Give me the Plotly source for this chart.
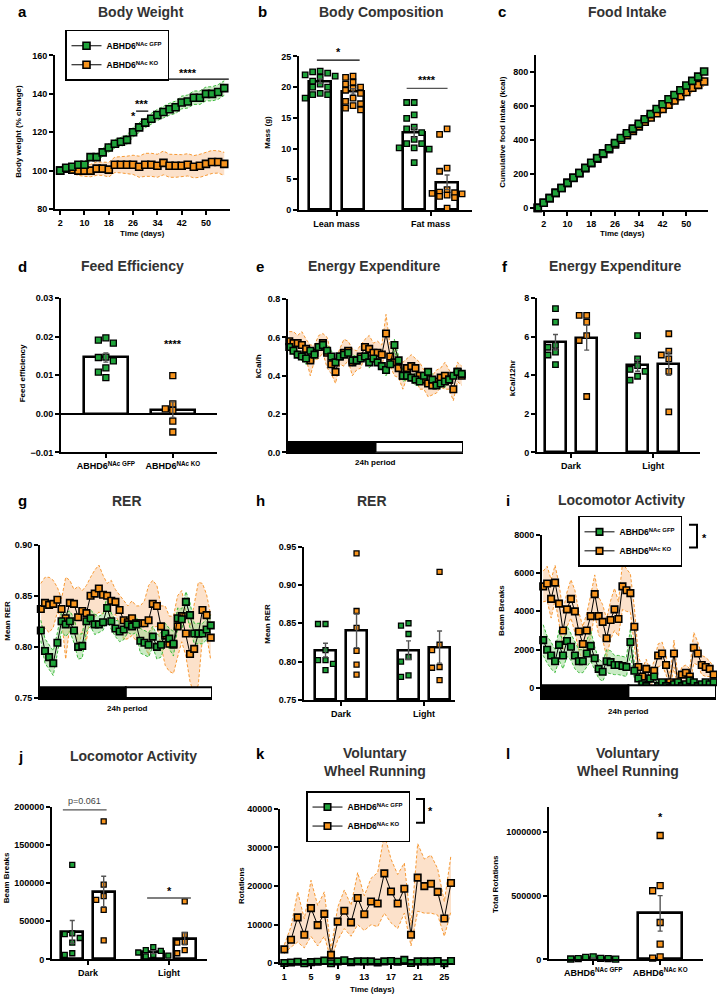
import plotly.graph_objects as go

W, H = 717, 1000
FONT = "Liberation Sans, Arial, Helvetica, sans-serif"
GREEN = "#1fa33a"
ORANGE = "#f7941d"
GREEN_FILL = "rgba(150,215,140,0.5)"
ORANGE_FILL = "rgba(250,195,150,0.5)"
GREEN_LINE = "#3dbb3d"
ORANGE_LINE = "#f79a35"
TITLE_COLOR = "#333333"
GFP = "ABHD6<sup>NAc GFP</sup>"
KO = "ABHD6<sup>NAc KO</sup>"

# ---------------- data ----------------
# a  Body weight (% change)
bw_days = list(range(2, 57, 2))
bw_gfp = [100, 101.5, 102, 103, 103, 107, 107, 109.5, 112, 114, 115, 116, 120, 122.5,
          125, 127, 129, 130.5, 132, 133, 135.5, 136, 138, 138, 140, 140, 141, 143]
bw_gfp_sem = [0.8, 1.0, 1.2, 1.4, 1.5, 1.7, 1.8, 2.0, 2.1, 2.2, 2.3, 2.4, 2.5, 2.6,
              2.7, 2.8, 2.9, 3.0, 3.1, 3.2, 3.3, 3.4, 3.5, 3.5, 3.6, 3.7, 3.8, 3.8]
bw_ko = [100, 101, 100.5, 100, 100, 100, 101, 101, 100.5, 103, 103, 103, 103, 102,
         103, 103, 102.5, 104, 102.5, 102.5, 102.5, 103, 102, 102.5, 103.5, 104.5, 104.5, 103.5]
bw_ko_sem = [0.8, 1.5, 2.0, 2.5, 3.0, 3.2, 3.5, 3.5, 3.8, 4.0, 4.2, 4.5, 5.0, 5.5,
             6.0, 6.0, 6.0, 6.2, 6.0, 6.0, 5.8, 5.8, 5.8, 6.0, 6.0, 6.0, 5.8, 6.0]

# b  Body composition
comp_groups = ["Lean mass", "Fat mass"]
lean_gfp = [22.5, 22.3, 22.6, 22.0, 21.8, 21.6, 21.0, 20.5, 20.0, 20.0, 19.0, 18.8, 18.8, 18.2]
lean_ko = [21.8, 21.6, 20.8, 20.5, 20.0, 19.8, 19.5, 19.0, 18.2, 17.7, 17.3, 17.0, 16.6, 16.3]
fat_gfp = [17.5, 17.5, 15.5, 14.9, 13.5, 13.2, 12.6, 11.5, 10.8, 10.8, 10.1, 10.1, 9.9, 7.7]
fat_ko = [13.2, 12.3, 6.8, 6.3, 3.3, 2.9, 2.8, 2.7, 2.6, 2.4, 2.2, 2.0, 0.3]
comp_mean = {"lean_gfp": 21.0, "lean_ko": 19.3, "fat_gfp": 12.6, "fat_ko": 4.5}
comp_sem = {"lean_gfp": 0.35, "lean_ko": 0.45, "fat_gfp": 0.8, "fat_ko": 1.2}

# c  Cumulative food intake
fi_days = list(range(0, 57, 2))
fi_gfp = [0, 30, 57, 88, 117, 147, 177, 205, 235, 265, 292, 320, 350, 380, 410, 438, 465,
          493, 520, 550, 580, 608, 637, 662, 690, 718, 745, 770, 800]
fi_ko = [0, 30, 57, 88, 117, 147, 176, 204, 233, 262, 289, 316, 344, 372, 400, 426, 452,
         478, 505, 530, 555, 580, 605, 630, 655, 680, 705, 722, 742]
fi_ko_sem = [0, 1, 2, 3, 4, 5, 6, 7, 8, 9, 10, 11, 12, 13, 14, 15, 16, 17, 18, 19, 20,
             21, 22, 23, 24, 25, 26, 27, 28]

# d  Feed efficiency
fe_gfp = [0.0191, 0.0197, 0.0183, 0.0146, 0.0137, 0.0147, 0.0119, 0.0108, 0.0094]
fe_ko = [0.0099, 0.0026, 0.0009, 0.0013, -0.0019, -0.0047]
fe_mean = [0.0146, 0.0011]
fe_sem = [0.0012, 0.002]

# e  Energy expenditure time course (kcal/h)
ee_gfp = [0.55, 0.53, 0.51, 0.50, 0.49, 0.53, 0.51, 0.55, 0.56, 0.53, 0.50, 0.47, 0.50, 0.51,
          0.52, 0.48, 0.48, 0.49, 0.50, 0.47, 0.49, 0.47, 0.45, 0.43, 0.46, 0.56, 0.48, 0.40,
          0.40, 0.39, 0.38, 0.37, 0.40, 0.42, 0.38, 0.35, 0.36, 0.37, 0.38, 0.40, 0.42, 0.41]
ee_gfp_sem = [0.02, 0.02, 0.02, 0.02, 0.03, 0.02, 0.03, 0.02, 0.02, 0.03, 0.03, 0.02, 0.02, 0.02,
              0.02, 0.03, 0.02, 0.02, 0.02, 0.03, 0.02, 0.02, 0.02, 0.03, 0.02, 0.03, 0.02, 0.03,
              0.02, 0.02, 0.03, 0.02, 0.02, 0.02, 0.03, 0.02, 0.02, 0.03, 0.02, 0.02, 0.02, 0.02]
ee_ko = [0.58, 0.57, 0.57, 0.56, 0.54, 0.48, 0.52, 0.55, 0.57, 0.52, 0.46, 0.42, 0.50, 0.52,
         0.53, 0.47, 0.48, 0.50, 0.55, 0.54, 0.52, 0.52, 0.51, 0.62, 0.50, 0.47, 0.44, 0.40,
         0.44, 0.45, 0.44, 0.40, 0.38, 0.36, 0.35, 0.37, 0.39, 0.40, 0.38, 0.33, 0.42, 0.40]
ee_ko_sem = [0.05, 0.06, 0.04, 0.07, 0.05, 0.08, 0.04, 0.06, 0.05, 0.08, 0.05, 0.06, 0.04, 0.07,
             0.05, 0.07, 0.05, 0.06, 0.04, 0.07, 0.05, 0.06, 0.05, 0.10, 0.05, 0.07, 0.05, 0.07,
             0.05, 0.06, 0.05, 0.07, 0.05, 0.07, 0.05, 0.06, 0.05, 0.07, 0.05, 0.06, 0.05, 0.05]

# f  Energy expenditure per 12 h
phases = ["Dark", "Light"]
ee12_dark_gfp = [7.45, 6.75, 5.55, 5.45, 5.2, 5.05, 4.55]
ee12_dark_ko = [7.1, 7.1, 6.75, 6.05, 5.8, 2.9]
ee12_light_gfp = [6.05, 4.85, 4.5, 4.3, 4.2, 3.95, 3.75]
ee12_light_ko = [6.15, 5.25, 5.05, 4.85, 4.2, 2.1]
ee12_mean = [5.71, 5.95, 4.51, 4.6]
ee12_sem = [0.4, 0.65, 0.3, 0.6]

# g  RER time course
rer_ko = [0.837, 0.843, 0.841, 0.842, 0.846, 0.837, 0.828, 0.843, 0.842, 0.829, 0.835, 0.833,
          0.850, 0.852, 0.857, 0.851, 0.850, 0.845, 0.844, 0.836, 0.826, 0.824, 0.828, 0.823,
          0.823, 0.823, 0.826, 0.842, 0.840, 0.820, 0.811, 0.803, 0.802, 0.820, 0.830, 0.813,
          0.793, 0.798, 0.813, 0.836, 0.831, 0.809]
rer_ko_sem = [0.025, 0.025, 0.027, 0.023, 0.012, 0.010, 0.040, 0.022, 0.014, 0.030, 0.020, 0.027,
              0.018, 0.023, 0.023, 0.019, 0.012, 0.020, 0.012, 0.015, 0.019, 0.016, 0.017, 0.017,
              0.017, 0.022, 0.034, 0.023, 0.020, 0.020, 0.029, 0.027, 0.028, 0.030, 0.025, 0.022,
              0.027, 0.045, 0.050, 0.026, 0.020, 0.022]
rer_gfp = [0.816, 0.796, 0.790, 0.784, 0.804, 0.825, 0.822, 0.825, 0.816, 0.800, 0.801, 0.825,
           0.828, 0.822, 0.822, 0.824, 0.838, 0.825, 0.818, 0.815, 0.817, 0.822, 0.820, 0.822,
           0.806, 0.804, 0.802, 0.810, 0.800, 0.802, 0.813, 0.808, 0.803, 0.828, 0.827, 0.844,
           0.831, 0.813, 0.813, 0.813, 0.817, 0.821]
rer_gfp_sem = [0.010, 0.012, 0.012, 0.012, 0.010, 0.010, 0.012, 0.010, 0.012, 0.012, 0.012, 0.010,
               0.008, 0.010, 0.008, 0.008, 0.012, 0.008, 0.008, 0.010, 0.010, 0.008, 0.008, 0.008,
               0.012, 0.012, 0.012, 0.010, 0.012, 0.012, 0.010, 0.010, 0.012, 0.010, 0.010, 0.010,
               0.012, 0.010, 0.010, 0.010, 0.010, 0.010]

# h  Mean RER
rer_dark_gfp = [0.849, 0.849, 0.815, 0.802, 0.802, 0.797, 0.789]
rer_dark_ko = [0.941, 0.866, 0.844, 0.814, 0.796, 0.783]
rer_light_gfp = [0.850, 0.847, 0.836, 0.806, 0.800, 0.782, 0.780]
rer_light_ko = [0.917, 0.822, 0.815, 0.793, 0.792, 0.776]
rer_mean = [0.815, 0.840, 0.815, 0.819]
rer_sem = [0.009, 0.022, 0.012, 0.021]

# i  Locomotor activity time course
loc_ko = [5300, 5450, 4650, 5500, 4400, 3000, 4100, 4650, 4000, 2950, 2300, 3000, 3750, 4900,
          3750, 3450, 2600, 3550, 4100, 3600, 5300, 5100, 4950, 3200, 1100, 600, 1000, 500,
          900, 1700, 1800, 1200, 300, 1800, 200, 700, 800, 600, 2100, 1800, 1200, 1100, 1000, 700]
loc_ko_sem = [800, 900, 1000, 900, 1000, 1000, 900, 1000, 1100, 1000, 900, 900, 1100, 1000,
              1000, 900, 1000, 1000, 1100, 900, 1200, 1100, 1000, 1000, 600, 400, 500, 400,
              500, 600, 600, 500, 300, 700, 300, 400, 400, 400, 800, 600, 500, 500, 400, 400]
loc_gfp = [2500, 2000, 1700, 1400, 2250, 1700, 2450, 2150, 1700, 1400, 1400, 1800, 2200, 1550,
           1000, 850, 1400, 1350, 1200, 1200, 1150, 1100, 2400, 900, 500, 200, 100, 500, 600,
           100, 300, 100, 0, 200, 300, 100, 200, 400, 300, 100, 200, 300, 200, 300]
loc_gfp_sem = [800, 700, 700, 600, 800, 700, 800, 700, 700, 600, 600, 700, 800, 600, 500, 500,
               600, 600, 500, 500, 500, 500, 700, 400, 300, 150, 100, 200, 300, 100, 150, 100,
               50, 100, 150, 100, 100, 200, 150, 100, 100, 150, 100, 150]

# j  Locomotor activity per phase
loc_dark_gfp = [124000, 34000, 33000, 28000, 22000, 8000, 6000]
loc_dark_ko = [181000, 98000, 83000, 78000, 65000, 25000]
loc_light_gfp = [16000, 12000, 11000, 9000, 6000, 5000, 4000]
loc_light_ko = [76000, 32000, 23000, 22000, 12000, 8000]
loc_mean = [36000, 89000, 9500, 27000]
loc_sem = [15000, 20000, 2000, 8000]

# k  Voluntary wheel running time course
wr_days = list(range(1, 27))
wr_ko = [3600, 6100, 11900, 7400, 14300, 9900, 12800, 2200, 10800, 13600, 10600, 16900, 12700,
         16000, 15500, 23300, 18600, 15500, 19300, 7400, 22200, 20000, 20600, 18500, 11600, 20800]
wr_ko_up = [4800, 9500, 18500, 11500, 21500, 15000, 18500, 3500, 14500, 19000, 15000, 23500,
            17500, 22000, 23500, 33500, 27000, 23000, 26000, 9800, 31000, 27000, 28000, 24500,
            16000, 28000]
wr_ko_lo = [2500, 4200, 5500, 4000, 7000, 4500, 7000, 1000, 6000, 9000, 7000, 10000, 8500,
            10000, 9500, 13000, 10500, 9000, 13000, 4500, 13500, 13000, 13000, 12500, 7000, 13500]
wr_gfp = [100, 200, 400, 0, 300, 400, 700, 0, 500, 800, 300, 500, 500, 500, 200, 500, 600, 400,
          900, 100, 500, 500, 500, 600, 0, 600]

# l  Total rotations
tot_gfp = [6000, 20000, 5000, 15000, 3000, 8000, 2000]
tot_ko = [975000, 580000, 540000, 290000, 120000, 20000, 10000]
tot_mean = [8000, 362000]
tot_sem = [3000, 140000]

a_xticks = [2, 10, 18, 26, 34, 42, 50]
k_xticks = [1, 5, 9, 13, 17, 21, 25]

# ---------------- helpers ----------------
fig = go.Figure()
annotations = []
shapes = []
layout = dict(width=W, height=H, margin=dict(l=0, r=0, t=0, b=0), paper_bgcolor="white",
              plot_bgcolor="rgba(0,0,0,0)", font=dict(family=FONT, color="black"))

TICKFONT = dict(family=FONT, size=9, color="black", weight="bold")


def refs(i):
    return ("x" if i == 1 else f"x{i}"), ("y" if i == 1 else f"y{i}")


def axes(i, x0, x1, y0, y1, xr, yr, xticks=None, xtext=None, yticks=None, yfmt=None,
         xshow=True):
    xr_, yr_ = refs(i)
    base = dict(showline=True, linecolor="black", linewidth=2, ticks="outside", ticklen=4,
                tickwidth=1.8, tickcolor="black", showgrid=False, zeroline=False,
                fixedrange=True, tickfont=TICKFONT)
    xa = dict(base, domain=[x0 / W, x1 / W], range=xr, anchor=yr_)
    if xticks is not None:
        xa.update(tickmode="array", tickvals=xticks,
                  ticktext=xtext if xtext else [str(v) for v in xticks])
    if not xshow:
        xa.update(ticks="", showticklabels=False)
    ya = dict(base, domain=[1 - y1 / H, 1 - y0 / H], range=yr, anchor=xr_)
    if yticks is not None:
        ya.update(tickmode="array", tickvals=yticks)
    if yfmt:
        ya.update(tickformat=yfmt)
    layout["xaxis" if i == 1 else f"xaxis{i}"] = xa
    layout["yaxis" if i == 1 else f"yaxis{i}"] = ya
    return xr_, yr_


def ann(x, y, text, size=9, bold=True, color="black", angle=0, xanchor="center", yanchor="middle"):
    annotations.append(dict(x=x / W, y=1 - y / H, xref="paper", yref="paper", text=text,
                            showarrow=False, textangle=angle, xanchor=xanchor, yanchor=yanchor,
                            font=dict(family=FONT, size=size, color=color,
                                      weight="bold" if bold else "normal")))


def title(xc, y, text, letter_x, letter):
    ann(xc, y, text, size=14, color=TITLE_COLOR)
    ann(letter_x, y, letter, size=15)


def swarm(vals, ppu, d=6.0, col=7.5, maxk=2):
    placed = []
    offs = [0.0] * len(vals)
    cands = [0]
    for k in range(1, maxk + 1):
        cands += [-k, k]
    for idx in sorted(range(len(vals)), key=lambda k: -vals[k]):
        y = vals[idx] * ppu
        best, bestd = 0.0, -1
        for k in cands:
            x = k * col
            dmin = min([max(abs(x - px), abs(y - py)) for px, py in placed] or [99])
            if dmin >= d:
                best = x
                break
            if dmin > bestd:
                best, bestd = x, dmin
        placed.append((best, y))
        offs[idx] = best
    return offs


def bar_group(xa, ya, xpos, mean, sem, pts, color, bw, ppx, ppy, size=5.5, base=None, maxk=2):
    b = dict(x=[xpos], y=[mean], width=bw, xaxis=xa, yaxis=ya, showlegend=False,
             marker=dict(color="white", line=dict(color="black", width=2.6)), hoverinfo="skip")
    if base is not None:
        b.update(base=base, y=[mean - base])
    fig.add_trace(go.Bar(**b))
    offs = swarm(pts, ppy, maxk=maxk)
    fig.add_trace(go.Scatter(x=[xpos + o / ppx for o in offs], y=pts, mode="markers",
                             xaxis=xa, yaxis=ya, showlegend=False, cliponaxis=False,
                             marker=dict(symbol="square", size=size, color=color,
                                         line=dict(color="black", width=1.3))))
    fig.add_trace(go.Scatter(x=[xpos], y=[mean], mode="markers", xaxis=xa, yaxis=ya,
                             showlegend=False, marker=dict(size=1, opacity=0),
                             error_y=dict(type="data", array=[sem], color="#555555",
                                          thickness=1.4, width=2.5)))


def band(xa, ya, x, lo, up, fill, line):
    fig.add_trace(go.Scatter(x=x, y=up, mode="lines", xaxis=xa, yaxis=ya, showlegend=False,
                             line=dict(color=line, width=1, dash="3px,2px"), hoverinfo="skip"))
    fig.add_trace(go.Scatter(x=x, y=lo, mode="lines", xaxis=xa, yaxis=ya, showlegend=False,
                             fill="tonexty", fillcolor=fill,
                             line=dict(color=line, width=1, dash="3px,2px"), hoverinfo="skip"))


def series(xa, ya, x, y, color, size=7, name=None, legend=None, rank=1):
    fig.add_trace(go.Scatter(x=x, y=y, mode="lines+markers", xaxis=xa, yaxis=ya,
                             name=name if name else "", legend=legend,
                             showlegend=name is not None, legendrank=rank, cliponaxis=False,
                             line=dict(color="black", width=1),
                             marker=dict(symbol="square", size=size, color=color,
                                         line=dict(color="black", width=1.6))))


def pm(y, s, sign):
    return [a + sign * b for a, b in zip(y, s)]


def sig_line(xa, ya, x0, x1, y, color="black"):
    shapes.append(dict(type="line", xref=xa, yref=ya, x0=x0, x1=x1, y0=y, y1=y,
                       line=dict(color=color, width=1.3)))


def sig_text(xa, ya, x, y, text, size=11, color="black", bold=True):
    annotations.append(dict(x=x, y=y, xref=xa, yref=ya, text=text, showarrow=False,
                            font=dict(family=FONT, size=size, color=color,
                                      weight="bold" if bold else "normal")))


def daynight(xa, ya, xr, mid, y0, y1):
    shapes.append(dict(type="rect", xref=xa, yref=ya, x0=xr[0], x1=mid, y0=y0, y1=y1,
                       fillcolor="black", line=dict(color="black", width=2), layer="above"))
    shapes.append(dict(type="rect", xref=xa, yref=ya, x0=mid, x1=xr[1], y0=y0, y1=y1,
                       fillcolor="white", line=dict(color="black", width=2), layer="above"))


def bracket(x0, y0, y1, w, sx, sy):
    shapes.append(dict(type="path", xref="paper", yref="paper",
                       path=f"M {x0 / W},{1 - y0 / H} L {(x0 + w) / W},{1 - y0 / H} "
                            f"L {(x0 + w) / W},{1 - y1 / H} L {x0 / W},{1 - y1 / H}",
                       line=dict(color="black", width=2)))
    ann(sx, sy, "*", size=11)


# ---------------- a: Body weight ----------------
xa, ya = axes(1, 55, 230, 51, 206, [0.3, 57.9], [80, 160], xticks=a_xticks,
              yticks=[80, 100, 120, 140, 160])
band(xa, ya, bw_days, pm(bw_ko, bw_ko_sem, -1), pm(bw_ko, bw_ko_sem, 1), ORANGE_FILL, ORANGE_LINE)
band(xa, ya, bw_days, pm(bw_gfp, bw_gfp_sem, -1), pm(bw_gfp, bw_gfp_sem, 1), GREEN_FILL, GREEN_LINE)
series(xa, ya, bw_days, bw_ko, ORANGE, name=KO, legend="legend", rank=2)
series(xa, ya, bw_days, bw_gfp, GREEN, name=GFP, legend="legend", rank=1)
sig_line(xa, ya, 27, 31, 131)
sig_line(xa, ya, 32.5, 57.5, 147.7)
sig_text(xa, ya, 29, 134.5, "***")
sig_text(xa, ya, 26, 128.5, "*")
sig_text(xa, ya, 44, 151, "****")
title(141, 7, "Body Weight", 22, "a")
ann(19, 128, "Body weight (% change)", size=8, angle=-90)
ann(142, 231, "Time (days)", size=8)

# ---------------- b: Body composition ----------------
xa, ya = axes(2, 299, 472, 52, 207, [-0.40, 1.44], [0, 25], xticks=[0, 1],
              xtext=comp_groups, yticks=[0, 5, 10, 15, 20, 25])
ppx, ppy = 94, 155 / 25
bar_group(xa, ya, -0.175, comp_mean["lean_gfp"], comp_sem["lean_gfp"], lean_gfp, GREEN, 0.234, ppx, ppy)
bar_group(xa, ya, 0.175, comp_mean["lean_ko"], comp_sem["lean_ko"], lean_ko, ORANGE, 0.234, ppx, ppy)
bar_group(xa, ya, 0.825, comp_mean["fat_gfp"], comp_sem["fat_gfp"], fat_gfp, GREEN, 0.234, ppx, ppy)
bar_group(xa, ya, 1.175, comp_mean["fat_ko"], comp_sem["fat_ko"], fat_ko, ORANGE, 0.234, ppx, ppy)
sig_line(xa, ya, -0.21, 0.245, 24.4)
sig_line(xa, ya, 0.745, 1.18, 19.8, color="#555555")
ann(338, 47, "*", size=11)
sig_text(xa, ya, 0.96, 21.2, "****")
title(381, 7, "Body Composition", 262, "b")
ann(268, 129, "Mass (g)", size=8, angle=-90)

# ---------------- c: Food intake ----------------
xa, ya = axes(3, 536, 708, 50, 207, [-0.6, 57.3], [-12, 900], xticks=a_xticks,
              yticks=[0, 200, 400, 600, 800])
band(xa, ya, fi_days, pm(fi_ko, fi_ko_sem, -1), pm(fi_ko, fi_ko_sem, 1), ORANGE_FILL, ORANGE_LINE)
series(xa, ya, fi_days, fi_ko, ORANGE)
series(xa, ya, fi_days, fi_gfp, GREEN)
title(627, 7, "Food Intake", 502, "c")
ann(503, 129, "Cumulative food intake (kcal)", size=8, angle=-90)
ann(622, 231, "Time (days)", size=8)

# ---------------- d: Feed efficiency ----------------
xa, ya = axes(4, 61, 217, 296, 452, [-0.67, 1.66], [-0.01, 0.03], xticks=[0, 1],
              xtext=[GFP, KO], yticks=[-0.01, 0, 0.01, 0.02, 0.03], yfmt=".2f")
layout["yaxis4"].update(zeroline=True, zerolinecolor="black", zerolinewidth=2)
ppx, ppy = 67, 156 / 0.04
bar_group(xa, ya, 0, fe_mean[0], fe_sem[0], fe_gfp, GREEN, 0.66, ppx, ppy, size=6)
bar_group(xa, ya, 1, fe_mean[1], fe_sem[1], fe_ko, ORANGE, 0.66, ppx, ppy, size=6)
sig_text(xa, ya, 1, 0.0182, "****")
title(132, 264, "Feed Efficiency", 22, "d")
ann(22, 372, "Feed efficiency", size=8, angle=-90)

# ---------------- e: Energy expenditure ----------------
n_e = len(ee_gfp)
xr_e = [-0.3, n_e - 0.7]
xa, ya = axes(5, 288, 463, 297, 452, xr_e, [0, 0.8], yticks=[0, 0.2, 0.4, 0.6, 0.8],
              yfmt=".1f", xshow=False)
tx = list(range(n_e))
band(xa, ya, tx, pm(ee_ko, ee_ko_sem, -1), pm(ee_ko, ee_ko_sem, 1), ORANGE_FILL, ORANGE_LINE)
band(xa, ya, tx, pm(ee_gfp, ee_gfp_sem, -1), pm(ee_gfp, ee_gfp_sem, 1), GREEN_FILL, GREEN_LINE)
series(xa, ya, tx, ee_ko, ORANGE, size=6.5)
series(xa, ya, tx, ee_gfp, GREEN, size=6.5)
daynight(xa, ya, xr_e, (n_e - 1) / 2, 0, 0.054)
title(374, 264, "Energy Expenditure", 260, "e")
ann(258, 365, "kCal/h", size=8, angle=-90)
ann(375, 462, "24h period", size=8)

# ---------------- f: Energy expenditure 12h ----------------
xa, ya = axes(6, 537, 700, 296, 452, [-0.415, 1.57], [0, 8], xticks=[0, 1], xtext=phases,
              yticks=[0, 2, 4, 6, 8])
ppx, ppy = 82, 156 / 8
bar_group(xa, ya, -0.19, ee12_mean[0], ee12_sem[0], ee12_dark_gfp, GREEN, 0.256, ppx, ppy)
bar_group(xa, ya, 0.19, ee12_mean[1], ee12_sem[1], ee12_dark_ko, ORANGE, 0.256, ppx, ppy)
bar_group(xa, ya, 0.81, ee12_mean[2], ee12_sem[2], ee12_light_gfp, GREEN, 0.256, ppx, ppy)
bar_group(xa, ya, 1.19, ee12_mean[3], ee12_sem[3], ee12_light_ko, ORANGE, 0.256, ppx, ppy)
title(615, 264, "Energy Expenditure", 505, "f")
ann(512, 377, "kCal/12hr", size=8, angle=-90)

# ---------------- g: RER time course ----------------
n_g = len(rer_gfp)
xr_g = [-0.2, n_g - 0.7]
xa, ya = axes(7, 40, 212, 545, 700, xr_g, [0.75, 0.90], yticks=[0.75, 0.80, 0.85, 0.90],
              yfmt=".2f", xshow=False)
tx = list(range(n_g))
band(xa, ya, tx, pm(rer_ko, rer_ko_sem, -1), pm(rer_ko, rer_ko_sem, 1), ORANGE_FILL, ORANGE_LINE)
band(xa, ya, tx, pm(rer_gfp, rer_gfp_sem, -1), pm(rer_gfp, rer_gfp_sem, 1), GREEN_FILL, GREEN_LINE)
series(xa, ya, tx, rer_ko, ORANGE, size=6.5)
series(xa, ya, tx, rer_gfp, GREEN, size=6.5)
daynight(xa, ya, xr_g, (n_g - 1) / 2, 0.75, 0.7606)
title(127, 501, "RER", 22, "g")
ann(8, 622, "Mean RER", size=8, angle=-90)
ann(127, 711, "24h period", size=8)

# ---------------- h: RER bars ----------------
xa, ya = axes(8, 304, 455, 547, 702, [-0.446, 1.373], [0.75, 0.95], xticks=[0, 1], xtext=phases,
              yticks=[0.75, 0.80, 0.85, 0.90, 0.95], yfmt=".2f")
ppx, ppy = 83, 155 / 0.2
bar_group(xa, ya, -0.187, rer_mean[0], rer_sem[0], rer_dark_gfp, GREEN, 0.253, ppx, ppy, size=5, base=0.75)
bar_group(xa, ya, 0.187, rer_mean[1], rer_sem[1], rer_dark_ko, ORANGE, 0.253, ppx, ppy, size=5, base=0.75)
bar_group(xa, ya, 0.813, rer_mean[2], rer_sem[2], rer_light_gfp, GREEN, 0.253, ppx, ppy, size=5, base=0.75)
bar_group(xa, ya, 1.187, rer_mean[3], rer_sem[3], rer_light_ko, ORANGE, 0.253, ppx, ppy, size=5, base=0.75)
title(372, 501, "RER", 260, "h")
ann(268, 625, "Mean RER", size=8, angle=-90)

# ---------------- i: Locomotor activity time course ----------------
n_i = len(loc_gfp)
xr_i = [-0.3, n_i - 0.4]
xa, ya = axes(9, 542, 716, 535, 700, xr_i, [-520, 8000], yticks=[0, 2000, 4000, 6000, 8000],
              yfmt="d", xshow=False)
tx = list(range(n_i))
band(xa, ya, tx, pm(loc_ko, loc_ko_sem, -1), pm(loc_ko, loc_ko_sem, 1), ORANGE_FILL, ORANGE_LINE)
band(xa, ya, tx, pm(loc_gfp, loc_gfp_sem, -1), pm(loc_gfp, loc_gfp_sem, 1), GREEN_FILL, GREEN_LINE)
series(xa, ya, tx, loc_ko, ORANGE, size=6.5, name=KO, legend="legend2", rank=2)
series(xa, ya, tx, loc_gfp, GREEN, size=6.5, name=GFP, legend="legend2", rank=1)
daynight(xa, ya, xr_i, (n_i - 1) / 2, -520, 150)
title(621, 500, "Locomotor Activity", 508, "i")
ann(502, 612, "Beam Breaks", size=8, angle=-90)
ann(628, 714, "24h period", size=8)
bracket(689, 525, 548, 8, 704, 538)

# ---------------- j: Locomotor activity bars ----------------
xa, ya = axes(10, 52, 207, 810, 964, [-0.444, 1.469], [0, 200000], xticks=[0, 1], xtext=phases,
              yticks=[0, 50000, 100000, 150000, 200000], yfmt="d")
ppx, ppy = 81, 154 / 200000
bar_group(xa, ya, -0.194, loc_mean[0], loc_sem[0], loc_dark_gfp, GREEN, 0.27, ppx, ppy, size=5)
bar_group(xa, ya, 0.194, loc_mean[1], loc_sem[1], loc_dark_ko, ORANGE, 0.27, ppx, ppy, size=5)
bar_group(xa, ya, 0.806, loc_mean[2], loc_sem[2], loc_light_gfp, GREEN, 0.27, ppx, ppy, size=5, maxk=3)
bar_group(xa, ya, 1.194, loc_mean[3], loc_sem[3], loc_light_ko, ORANGE, 0.27, ppx, ppy, size=5)
sig_line(xa, ya, -0.31, 0.23, 196000, color="#555555")
sig_line(xa, ya, 0.73, 1.27, 80500, color="#555555")
ann(84, 804, "p=0.061", size=9, bold=False, color="#444444")
sig_text(xa, ya, 1.0, 90000, "*")
title(133, 759, "Locomotor Activity", 20, "j")
ann(6, 882, "Beam Breaks", size=8, angle=-90)

# ---------------- k: Wheel running time course ----------------
xa, ya = axes(11, 280, 453, 812, 968, [0.35, 26.3], [0, 40000], xticks=k_xticks,
              yticks=[0, 10000, 20000, 30000, 40000], yfmt="d")
band(xa, ya, wr_days, wr_ko_lo, wr_ko_up, ORANGE_FILL, ORANGE_LINE)
series(xa, ya, wr_days, wr_ko, ORANGE, size=6.5, name=KO, legend="legend3", rank=2)
series(xa, ya, wr_days, wr_gfp, GREEN, size=6.5, name=GFP, legend="legend3", rank=1)
title(375, 756, "Voluntary", 260, "k")
ann(375, 774, "Wheel Running", size=14, color=TITLE_COLOR)
ann(241, 890, "Rotations", size=8, angle=-90)
ann(372, 994, "Time (days)", size=8)
bracket(416, 802, 826, 8, 431, 814)

# ---------------- l: Total rotations ----------------
xa, ya = axes(12, 549, 703, 810, 964, [-0.66, 1.64], [0, 1200000], xticks=[0, 1],
              xtext=[GFP, KO], yticks=[0, 500000, 1000000], yfmt="d")
ppx, ppy = 67, 128.7 / 1000000
bar_group(xa, ya, 0, tot_mean[0], tot_sem[0], tot_gfp, GREEN, 0.66, ppx, ppy, size=6, maxk=3)
bar_group(xa, ya, 1, tot_mean[1], tot_sem[1], tot_ko, ORANGE, 0.66, ppx, ppy, size=6)
sig_text(xa, ya, 1, 1120000, "*")
title(628, 756, "Voluntary", 508, "l")
ann(628, 774, "Wheel Running", size=14, color=TITLE_COLOR)
ann(495, 888, "Total Rotations", size=8, angle=-90)

# ---------------- legends ----------------
leg = dict(xanchor="left", yanchor="top", bordercolor="black", borderwidth=1.5, bgcolor="white",
           font=dict(family=FONT, size=8.5, color="black", weight="bold"), itemwidth=30,
           tracegroupgap=0, traceorder="normal")
layout["legend"] = dict(leg, x=65 / W, y=1 - 25 / H)
layout["legend2"] = dict(leg, x=578 / W, y=1 - 516 / H)
layout["legend3"] = dict(leg, x=306 / W, y=1 - 794 / H)

layout["annotations"] = annotations
layout["shapes"] = shapes
layout["bargap"] = 0
fig.update_layout(**layout)
fig.write_html("out.html", post_script="document.body.style.margin='0px';",
               config={"displayModeBar": False})
